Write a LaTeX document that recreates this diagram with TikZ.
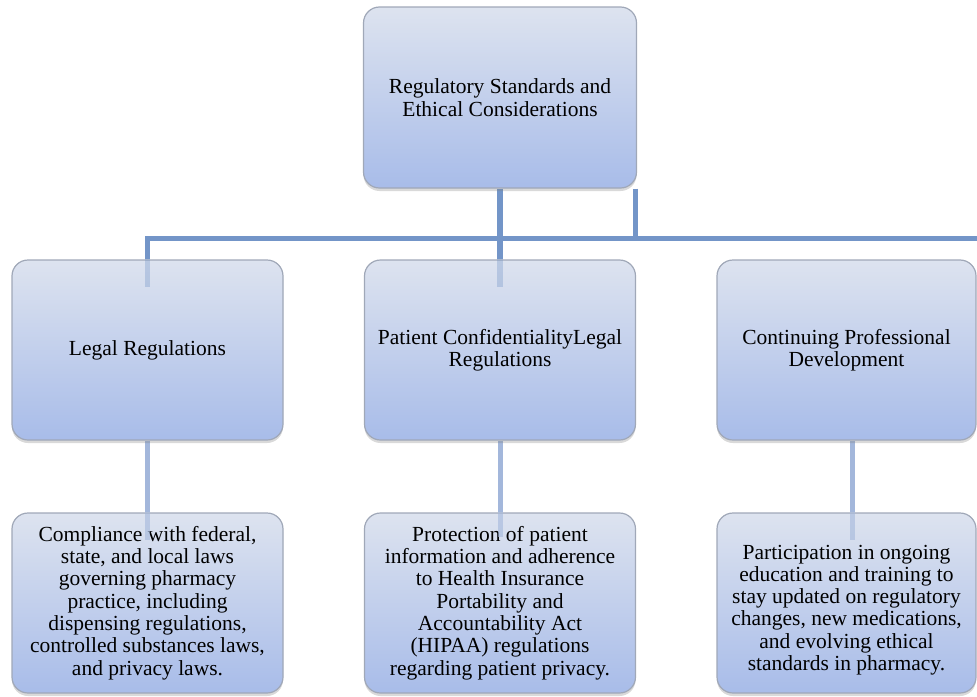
\documentclass[tikz,border=0pt]{standalone}
\usepackage{fontspec}
\setmainfont{Liberation Serif}
\usetikzlibrary{shadows,backgrounds}
\definecolor{boxtop}{HTML}{DDE3EF}
\definecolor{boxbot}{HTML}{A8BCE9}
\definecolor{boxedge}{HTML}{A0A8B8}
\definecolor{linkdark}{HTML}{7395C8}
\definecolor{linklight}{HTML}{A3B7DB}
\tikzset{
	block/.style    = {draw=boxedge, line width=1.2pt, rectangle,
		rounded corners=16pt,
		top color=boxtop, bottom color=boxbot,
		minimum height = 180pt,
		minimum width = 271pt,
		inner sep=0pt, align=center,
		font=\fontsize{21.5}{22.3}\selectfont,
		drop shadow={shadow xshift=0pt, shadow yshift=-3pt, opacity=0.3}},
	upper/.style    = {draw=linkdark, line width=5.5pt},
	lower/.style    = {draw=linklight, line width=5pt},
}

\begin{document}
\begin{tikzpicture}[ x=1pt,                    %<--one unit is one pixel of the page
					y=-1pt,                    %<--y grows downwards
					every node/.style={scale=1} ]

	\useasboundingbox (0,0) rectangle (977,696);

	\draw%-----------------------------------------------------------------------------------------
	%Drawing the Top Block:
	node(root) at (500,97.5) [block, minimum height=181pt, minimum width=273pt]
		{Regulatory Standards and\\Ethical Considerations}
	%Drawing the Area Blocks:
	node(legal) at (147.5,350) [block] {Legal Regulations}
	node(privacy) at (500,350) [block] {Patient ConfidentialityLegal\\Regulations}
	node(cpd) at (846.5,350) [block, minimum width=259pt] {Continuing Professional\\Development}
	%Drawing the Detail Blocks:
	node(legalinfo) at (147.5,603) [block]
		{Compliance with federal,\\state, and local laws\\governing pharmacy\\practice, including\\dispensing regulations,\\controlled substances laws,\\and privacy laws.}
	node(privinfo) at (500,603) [block]
		{Protection of patient\\information and adherence\\to Health Insurance\\Portability and\\Accountability Act\\(HIPAA) regulations\\regarding patient privacy.}
	node(cpdinfo) at (846.5,603) [block, minimum width=259pt]
		{\\[6pt]Participation in ongoing\\education and training to\\stay updated on regulatory\\changes, new medications,\\and evolving ethical\\standards in pharmacy.}
	%Drawing the Bus Nodes:
	coordinate(busright) at (977,238.5)
	coordinate(stubtop) at ([xshift=-1.5pt]root.south east)
	;%---------------------------------------------------------------------------------------------

	%Joining the Blocks (behind the boxes)
	\begin{scope}[on background layer]
	\draw[upper] (root.south) -- (privacy.north);
	\draw[upper] (legal.north) |- (busright);
	\draw[upper] (stubtop) -- (stubtop |- busright);
	\draw[lower] (legal.south) -- (legalinfo.north);
	\draw[lower] (privacy.south) -- (privinfo.north);
	\draw[lower] ([xshift=5.5pt]cpd.south) -- ([xshift=5.5pt]cpdinfo.north);
	\end{scope}

	%Line ends showing through the boxes
	\draw[upper, opacity=0.35] (legal.north) -- ++(0,28);
	\draw[upper, opacity=0.35] (privacy.north) -- ++(0,28);
	\draw[lower, opacity=0.6] (legalinfo.north) -- ++(0,28);
	\draw[lower, opacity=0.6] (privinfo.north) -- ++(0,25);
	\draw[lower, opacity=0.6] ([xshift=5.5pt]cpdinfo.north) -- ++(0,28);

\end{tikzpicture}
\end{document}
